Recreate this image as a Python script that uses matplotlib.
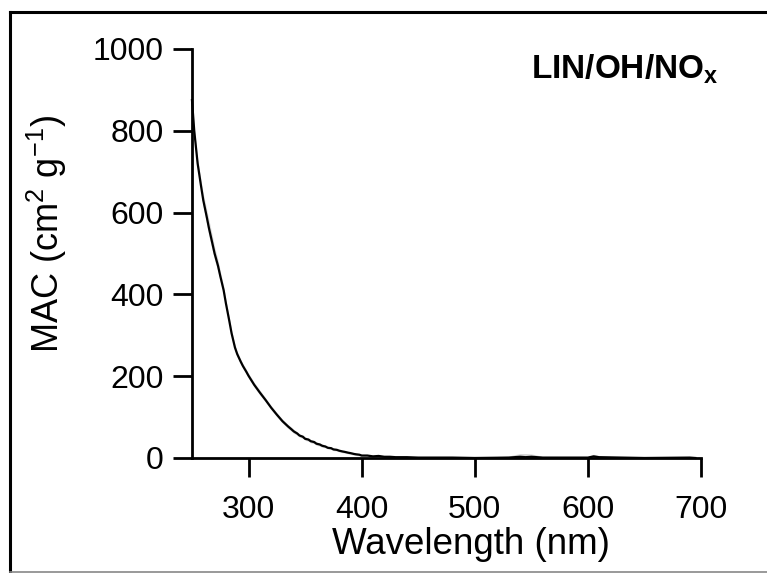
import matplotlib
matplotlib.use("Agg")
import matplotlib.pyplot as plt
from matplotlib.lines import Line2D

plt.rcParams['font.family'] = ['Liberation Sans', 'DejaVu Sans']
plt.rcParams['mathtext.fontset'] = 'custom'
plt.rcParams['mathtext.rm'] = 'Liberation Sans'
plt.rcParams['mathtext.it'] = 'Liberation Sans:italic'
plt.rcParams['mathtext.bf'] = 'Liberation Sans:bold'

# Data
wavelength = [250, 252, 255, 258, 260, 263, 265, 268, 270, 273, 275, 278, 280, 283, 285,
              288, 290, 293, 295, 298, 300, 305, 310, 315, 320, 325, 330, 335, 338, 340,
              343, 345, 348, 350, 353, 355, 358, 360, 363, 365, 368, 370, 373, 375,
              378, 380, 383, 385, 388, 390, 393, 395, 398, 400, 405, 410, 415, 420,
              425, 430, 440, 450, 480, 500, 530, 540, 545, 550, 560, 600, 605, 610,
              650, 690, 695]
mac = [875, 800, 720, 665, 630, 590, 562, 525, 500, 470, 445, 410, 378, 335, 305,
       270, 254, 236, 225, 211, 201, 179, 160, 142, 123, 106, 90, 77, 70, 65,
       60, 55, 52, 47, 45, 41, 39, 35, 33, 30, 28, 25, 24, 21,
       20, 18, 16, 15, 13, 12, 10, 9, 8, 6, 6, 4, 5, 3,
       3, 2, 2, 1, 1, 0, 1, 3, 2, 3, 1, 1, 4, 2,
       0, 1, 0]
mac_err = [6, 8, 10, 14, 16, 18, 20, 18, 16, 14, 12, 10, 8, 8, 7,
           7, 6, 6, 6, 6, 6, 6, 6, 5, 5, 5, 5, 5, 5, 5,
           4, 4, 4, 4, 4, 4, 4, 4, 4, 4, 3, 3, 3, 3,
           3, 3, 3, 3, 3, 3, 3, 3, 3, 3, 2, 2, 2, 2,
           2, 2, 2, 1, 1, 1, 4, 8, 9, 7, 3, 2, 5, 3,
           1, 1, 1]

x_ticks = [300, 400, 500, 600, 700]
y_ticks = [0, 200, 400, 600, 800, 1000]

fig = plt.figure(figsize=(7.67, 5.73), dpi=100)
ax = fig.add_axes([0.2503, 0.2007, 0.6637, 0.7138])

lo = [m - e for m, e in zip(mac, mac_err)]
hi = [m + e for m, e in zip(mac, mac_err)]
ax.fill_between(wavelength, lo, hi, color='#d8d8d8', lw=0, zorder=1)
ax.plot(wavelength, mac, color='black', lw=1.6, zorder=2, clip_on=False)

ax.set_xlim(250, 700)
ax.set_ylim(0, 1000)
ax.set_xticks(x_ticks)
ax.set_yticks(y_ticks)
for s in ['top', 'right']:
    ax.spines[s].set_visible(False)
for s in ['left', 'bottom']:
    ax.spines[s].set_linewidth(2.0)
ax.tick_params(axis='both', direction='out', length=13.5, width=2.0,
               labelsize=23, colors='black')
ax.tick_params(axis='x', pad=13)
ax.tick_params(axis='y', pad=7)

ax.set_xlabel('Wavelength (nm)', fontsize=26.5)
ax.xaxis.set_label_coords(0.548, -0.168)
ax.set_ylabel(r'MAC (cm$^{2}$ g$^{-1}$)', fontsize=26)
ax.yaxis.set_label_coords(-0.242, 0.548)

fig.text(719 / 767, 1 - 69 / 573, r'LIN/OH/NO$_\mathbf{x}$',
         ha='right', va='center', fontsize=24, fontweight='bold')

# Outer frame
W, H = 767, 573
fig.add_artist(Line2D([9.5 / W, 9.5 / W], [0, 1 - 11.5 / H], color='black', lw=2.2,
                      transform=fig.transFigure, solid_capstyle='projecting'))
fig.add_artist(Line2D([9.5 / W, 1], [1 - 11.5 / H, 1 - 11.5 / H], color='black', lw=2.2,
                      transform=fig.transFigure, solid_capstyle='projecting'))
fig.add_artist(Line2D([9.5 / W, 1], [1.5 / H, 1.5 / H], color='#888888', lw=1.2,
                      transform=fig.transFigure))

fig.savefig('out.png', dpi=100)
